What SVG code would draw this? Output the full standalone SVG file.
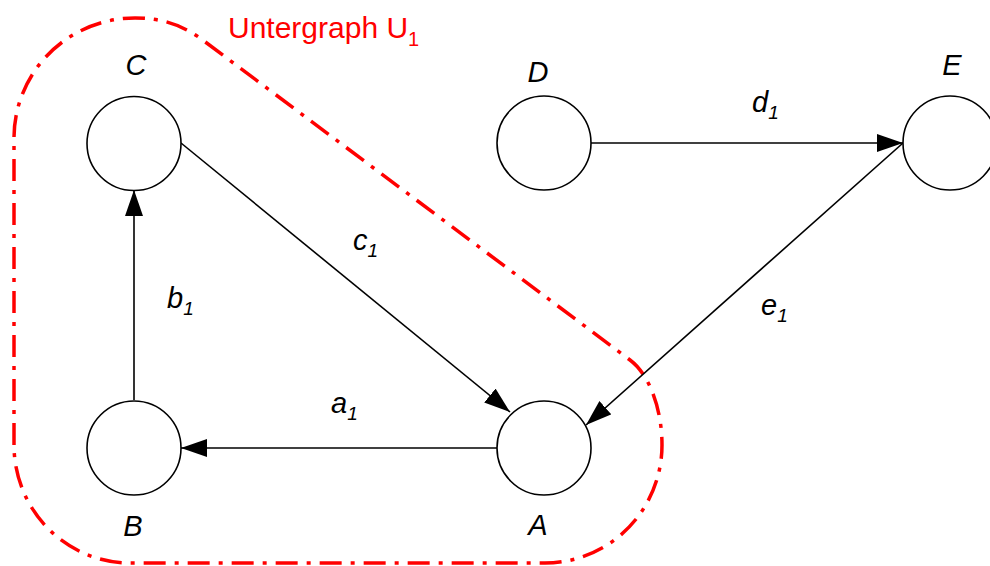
<svg xmlns="http://www.w3.org/2000/svg" width="990" height="566" viewBox="0 0 990 566">
<style>
.node{fill:#fff;stroke:#000;stroke-width:1.6}
.edge{stroke:#000;stroke-width:1.6;fill:none;marker-end:url(#arr)}
.lbl{font-family:"Liberation Sans",Arial,sans-serif;font-style:italic;font-size:29px;fill:#000}
.sub{font-size:19px}
.red{font-family:"Liberation Sans",Arial,sans-serif;font-size:30px;fill:#ff0000}
.rsub{font-size:20px}
.hull{fill:none;stroke:#ff0000;stroke-width:3.5;stroke-dasharray:22 9 4 9}
</style>
<defs>
<marker id="arr" markerUnits="userSpaceOnUse" markerWidth="26" markerHeight="18" refX="26" refY="9" orient="auto">
<path d="M0,0 L26,9 L0,18 z" fill="#000"/>
</marker>
</defs>
<g id="subgraph">
<path class="hull" d="M14 445 L14 138 A121 120 0 0 1 135 18 C160 18 180 24 200 38 L630 360 C650 375 662 410 662 445 A117 118 0 0 1 545 563 L130 563 A116 118 0 0 1 14 445 Z"/>
<text class="red" x="228" y="38">Untergraph U<tspan class="rsub" dy="8">1</tspan></text>
</g>
<g id="connectors">
<line id="a1" class="edge" x1="497" y1="448" x2="181" y2="448"/>
<line id="b1" class="edge" x1="134" y1="400" x2="134" y2="190"/>
<line id="c1" class="edge" x1="181" y1="143" x2="510" y2="412"/>
<line id="d1" class="edge" x1="591" y1="143" x2="903" y2="143"/>
<line id="e1" class="edge" x1="903" y1="143" x2="586" y2="425"/>
<text class="lbl" x="331" y="413">a<tspan class="sub" dy="7">1</tspan></text>
<text class="lbl" x="167" y="308">b<tspan class="sub" dy="7">1</tspan></text>
<text class="lbl" x="353" y="250">c<tspan class="sub" dy="7">1</tspan></text>
<text class="lbl" x="752" y="112">d<tspan class="sub" dy="7">1</tspan></text>
<text class="lbl" x="761" y="315">e<tspan class="sub" dy="7">1</tspan></text>
</g>
<g id="node-C"><circle class="node" cx="134" cy="143.5" r="47"/><text class="lbl" x="136" y="75" text-anchor="middle">C</text></g>
<g id="node-B"><circle class="node" cx="134" cy="448" r="47"/><text class="lbl" x="133" y="536" text-anchor="middle">B</text></g>
<g id="node-A"><circle class="node" cx="544" cy="448" r="47"/><text class="lbl" x="538" y="535" text-anchor="middle">A</text></g>
<g id="node-D"><circle class="node" cx="544" cy="143" r="47"/><text class="lbl" x="538" y="82" text-anchor="middle">D</text></g>
<g id="node-E"><circle class="node" cx="950" cy="143" r="47"/><text class="lbl" x="952" y="75" text-anchor="middle">E</text></g>
</svg>
